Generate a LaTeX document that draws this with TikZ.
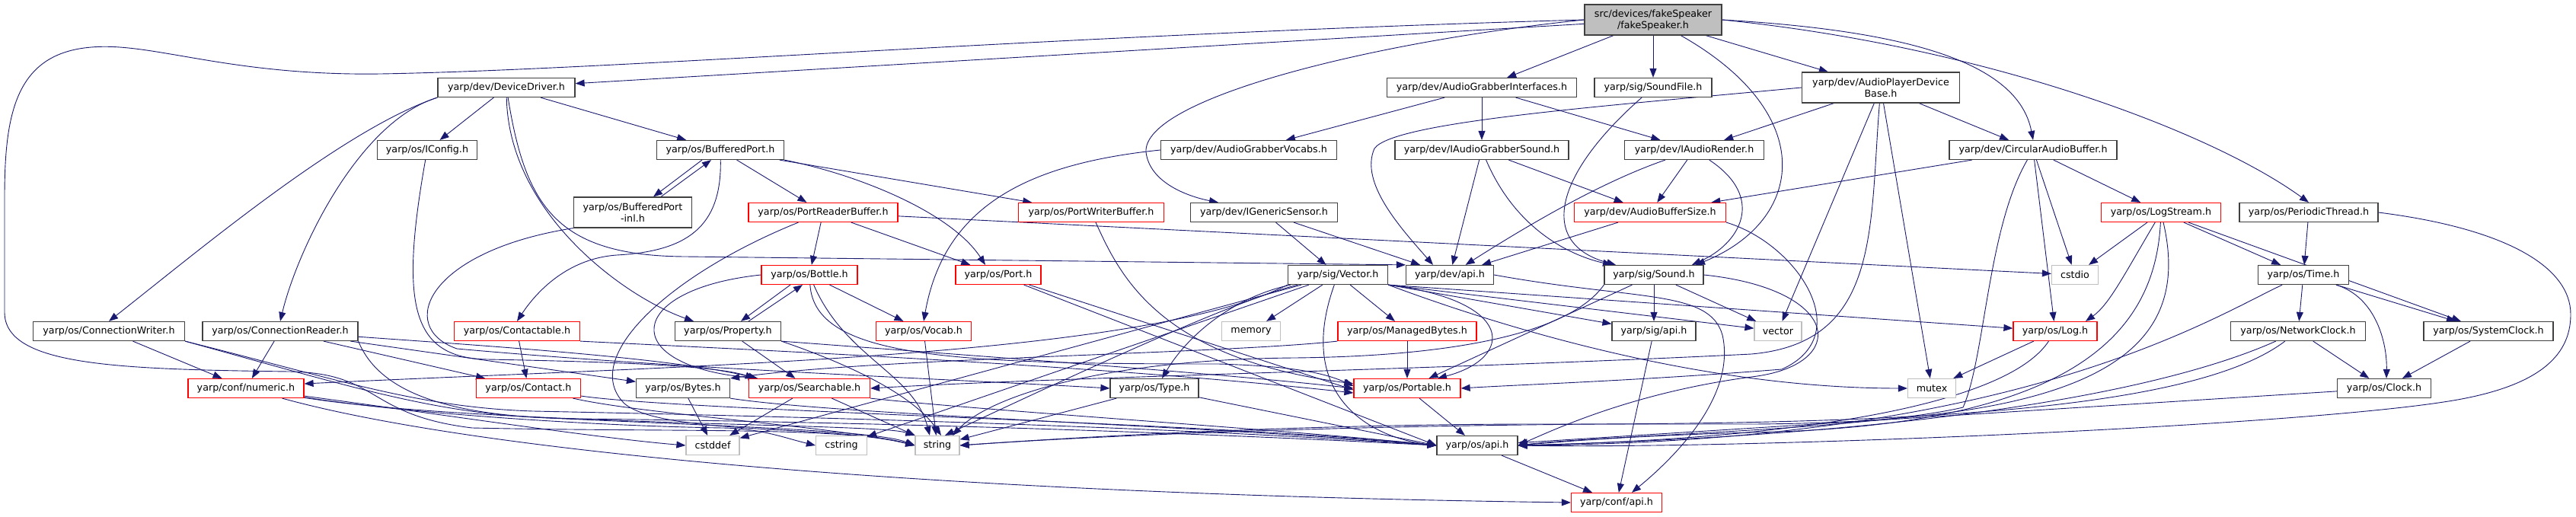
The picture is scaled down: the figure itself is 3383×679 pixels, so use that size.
\documentclass[tikz,border=0pt]{standalone}
\usepackage{fontspec}
\setmainfont{DejaVu Sans}
\usetikzlibrary{arrows.meta,backgrounds}
\definecolor{edgeblue}{HTML}{191970}
\definecolor{boxgray}{HTML}{404040}
\definecolor{sysgray}{HTML}{BFBFBF}
\definecolor{hdrred}{HTML}{FF0000}

\begin{document}
\begin{tikzpicture}[
  x=1pt, y=-1pt,
  font=\fontsize{12.7}{15}\selectfont,
  hdr/.style={draw=boxgray, fill=white, line width=1.2pt, inner xsep=0pt, inner ysep=0pt, minimum height=25pt, align=center},
  redhdr/.style={hdr, draw=hdrred},
  syshdr/.style={hdr, draw=sysgray},
  tall/.style={minimum height=40pt},
  inc/.style={-{Triangle[length=12pt,width=9pt]}, draw=edgeblue, line width=0.9pt}
]
\useasboundingbox (0,0) rectangle (3383,679);

\node[hdr, tall, fill=sysgray, minimum width=180pt] (root) at (2171,26) {src/devices/fakeSpeaker\\/fakeSpeaker.h};

\node[hdr, minimum width=180pt] (drv) at (665,115) {yarp/dev/DeviceDriver.h};
\node[hdr, minimum width=249pt] (agi) at (1946,115) {yarp/dev/AudioGrabberInterfaces.h};
\node[hdr, minimum width=154pt] (sfile) at (2171,115) {yarp/sig/SoundFile.h};
\node[hdr, tall, minimum width=207pt] (apdb) at (2470,115) {yarp/dev/AudioPlayerDevice\\Base.h};

\node[hdr, minimum width=131pt] (icfg) at (561,197) {yarp/os/IConfig.h};
\node[hdr, minimum width=167pt] (bport) at (946,197) {yarp/os/BufferedPort.h};
\node[hdr, minimum width=231pt] (agv) at (1640,197) {yarp/dev/AudioGrabberVocabs.h};
\node[hdr, minimum width=228pt] (iags) at (1946,197) {yarp/dev/IAudioGrabberSound.h};
\node[hdr, minimum width=183pt] (iar) at (2225,197) {yarp/dev/IAudioRender.h};
\node[hdr, minimum width=220pt] (cab) at (2670,197) {yarp/dev/CircularAudioBuffer.h};

\node[hdr, tall, minimum width=155pt] (bpinl) at (831,279) {yarp/os/BufferedPort\\-inl.h};
\node[redhdr, minimum width=196pt] (prbuf) at (1081,279) {yarp/os/PortReaderBuffer.h};
\node[redhdr, minimum width=191pt] (pwbuf) at (1433,279) {yarp/os/PortWriterBuffer.h};
\node[hdr, minimum width=193pt] (igs) at (1660,279) {yarp/dev/IGenericSensor.h};
\node[redhdr, minimum width=199pt] (abs) at (2167,279) {yarp/dev/AudioBufferSize.h};
\node[redhdr, minimum width=157pt] (lstream) at (2838,279) {yarp/os/LogStream.h};
\node[hdr, minimum width=182pt] (pthread) at (3032,279) {yarp/os/PeriodicThread.h};

\node[redhdr, minimum width=126pt] (bottle) at (1063,361) {yarp/os/Bottle.h};
\node[redhdr, minimum width=112pt] (port) at (1311,361) {yarp/os/Port.h};
\node[hdr, minimum width=131pt] (vec) at (1757,361) {yarp/sig/Vector.h};
\node[hdr, minimum width=115pt] (devapi) at (1904,361) {yarp/dev/api.h};
\node[hdr, minimum width=130pt] (sound) at (2172,361) {yarp/sig/Sound.h};
\node[syshdr, minimum width=61pt] (cstdio) at (2725,361) {cstdio};
\node[hdr, minimum width=119pt] (time) at (3025,361) {yarp/os/Time.h};

\node[hdr, minimum width=199pt] (cwriter) at (143,435) {yarp/os/ConnectionWriter.h};
\node[hdr, minimum width=204pt] (creader) at (368,435) {yarp/os/ConnectionReader.h};
\node[redhdr, minimum width=165pt] (ctable) at (679,435) {yarp/os/Contactable.h};
\node[hdr, minimum width=139pt] (prop) at (956,435) {yarp/os/Property.h};
\node[redhdr, minimum width=125pt] (vocab) at (1213,435) {yarp/os/Vocab.h};
\node[syshdr, minimum width=77pt] (memory) at (1643,435) {memory};
\node[redhdr, minimum width=182pt] (mbytes) at (1848,435) {yarp/os/ManagedBytes.h};
\node[hdr, minimum width=110pt] (sigapi) at (2172,435) {yarp/sig/api.h};
\node[syshdr, minimum width=62pt] (stdvector) at (2335,435) {vector};
\node[redhdr, minimum width=110pt] (log) at (2699,435) {yarp/os/Log.h};
\node[hdr, minimum width=177pt] (nclock) at (3018,435) {yarp/os/NetworkClock.h};
\node[hdr, minimum width=170pt] (sclock) at (3268,435) {yarp/os/SystemClock.h};

\node[redhdr, minimum width=152pt] (numeric) at (323,510) {yarp/conf/numeric.h};
\node[redhdr, minimum width=137pt] (contact) at (694,510) {yarp/os/Contact.h};
\node[hdr, minimum width=123pt] (bytes) at (897,510) {yarp/os/Bytes.h};
\node[redhdr, minimum width=159pt] (search) at (1063,510) {yarp/os/Searchable.h};
\node[hdr, minimum width=116pt] (type) at (1516,510) {yarp/os/Type.h};
\node[redhdr, minimum width=140pt] (portable) at (1848,510) {yarp/os/Portable.h};
\node[syshdr, minimum width=63pt] (mutex) at (2537,510) {mutex};
\node[hdr, minimum width=123pt] (clock) at (3131,510) {yarp/os/Clock.h};

\node[syshdr, minimum width=70pt] (cstddef) at (936,585) {cstddef};
\node[syshdr, minimum width=67pt] (cstring) at (1105,585) {cstring};
\node[syshdr, minimum width=58pt] (string) at (1231,585) {string};
\node[hdr, minimum width=106pt] (osapi) at (1940,585) {yarp/os/api.h};

\node[redhdr, minimum width=119pt] (confapi) at (2123,660) {yarp/conf/api.h};

\begin{scope}[on background layer]
% fakeSpeaker.h
\draw[inc] (root) -- (drv);
\draw[inc] (root.west) .. controls (1400,45) and (800,92) .. (500,97) .. controls (300,100) and (200,55) .. (120,62) .. controls (20,70) and (6,150) .. (6,260) -- (6,410) .. controls (6,480) and (150,485) .. (380,488) .. controls (500,490) and (480,545) .. (620,562) .. controls (900,568) and (1100,560) .. (string.west);
\draw[inc] (root.west) .. controls (1800,55) and (1500,130) .. (1505,200) .. controls (1510,240) and (1560,258) .. ([xshift=-60pt]igs.north);
\draw[inc] (root) -- (agi);
\draw[inc] (root) -- (sfile);
\draw[inc] (root) .. controls (2390,150) and (2370,290) .. ([xshift=55pt]sound.north);
\draw[inc] (root) -- (apdb);
\draw[inc] (root.east) .. controls (2500,40) and (2650,80) .. (cab.north);
\draw[inc] (root.east) .. controls (2600,60) and (2900,170) .. (pthread.north);
% DeviceDriver.h
\draw[inc] (drv.south west) .. controls (450,170) and (260,330) .. (cwriter.north);
\draw[inc] (drv.south west) .. controls (470,160) and (390,330) .. (creader.north);
\draw[inc] (drv) -- (icfg);
\draw[inc] (drv) .. controls (668,280) and (820,390) .. ([xshift=-45pt]prop.north);
\draw[inc] (drv) .. controls (690,270) and (730,336) .. (900,337) -- (devapi.north west);
\draw[inc] (drv) -- (bport);
\draw[inc] (icfg) .. controls (525,400) and (540,470) .. (640,472) .. controls (800,475) and (940,480) .. ([xshift=8pt]search.north west);
% BufferedPort.h
\draw[inc] ([xshift=-24pt]bport.south) -- ([xshift=27pt]bpinl.north);
\draw[inc] ([xshift=37pt]bpinl.north) -- ([xshift=-12pt]bport.south);
\draw[inc] (bport) -- (prbuf);
\draw[inc] (bport) -- (pwbuf);
\draw[inc] (bport.south east) .. controls (1130,230) and (1250,280) .. ([xshift=-17pt]port.north);
\draw[inc] (bport) .. controls (948,300) and (900,330) .. (810,335) .. controls (740,340) and (700,390) .. (ctable.north);
\draw[inc] (bpinl.south west) .. controls (560,330) and (520,430) .. (600,458) .. controls (900,485) and (1250,498) .. (type.west);
% PortReaderBuffer.h, PortWriterBuffer.h
\draw[inc] (prbuf) -- (bottle);
\draw[inc] (prbuf) -- (port);
\draw[inc] (prbuf) -- (cstdio);
\draw[inc] (prbuf) .. controls (880,360) and (760,470) .. (820,530) .. controls (870,572) and (1100,558) .. (string.west);
\draw[inc] (pwbuf) .. controls (1470,360) and (1520,470) .. ([yshift=6pt]portable.west);
% device interfaces
\draw[inc] (igs) -- (vec);
\draw[inc] (igs) -- (devapi);
\draw[inc] (agv.west) .. controls (1350,215) and (1240,270) .. (vocab.north);
\draw[inc] (agi) -- (agv);
\draw[inc] (agi) -- (iags);
\draw[inc] (agi) -- (iar);
\draw[inc] (iags) -- (devapi);
\draw[inc] (iags) .. controls (1990,300) and (2060,335) .. ([xshift=-55pt]sound.north);
\draw[inc] (iags) -- (abs);
\draw[inc] (iar) -- (abs);
\draw[inc] (iar) .. controls (2100,240) and (2000,300) .. (devapi);
\draw[inc] (iar) .. controls (2320,260) and (2285,320) .. ([xshift=50pt]sound.north);
\draw[inc] (sfile) .. controls (2040,230) and (2020,320) .. ([xshift=-50pt]sound.north);
\draw[inc] (apdb) -- (iar);
\draw[inc] (apdb) -- (cab);
\draw[inc] (apdb.west) .. controls (2100,140) and (1830,160) .. (1805,195) .. controls (1785,240) and (1840,300) .. ([xshift=-22pt]devapi.north);
\draw[inc] (apdb) -- (stdvector);
\draw[inc] (apdb) -- (mutex);
\draw[inc] (apdb) .. controls (2455,300) and (2470,450) .. (2300,465) .. controls (1900,485) and (1400,495) .. (search.east);
\draw[inc] (cab) -- (abs);
\draw[inc] (cab) -- (lstream);
\draw[inc] (cab) -- (cstdio);
\draw[inc] (cab) -- (log);
\draw[inc] (cab) .. controls (2610,300) and (2607,470) .. (2578,535) .. controls (2450,565) and (2100,572) .. (osapi.east);
\draw[inc] (abs) -- (devapi);
\draw[inc] (abs.south east) .. controls (2360,320) and (2440,440) .. (2340,485) .. controls (2150,500) and (2000,505) .. (portable.east);
% LogStream.h, PeriodicThread.h, clocks
\draw[inc] (lstream) -- (cstdio);
\draw[inc] (lstream) .. controls (2790,360) and (2770,400) .. ([xshift=40pt]log.north);
\draw[inc] (lstream) -- (time);
\draw[inc] (lstream) -- (sclock);
\draw[inc] (lstream) .. controls (2830,440) and (2720,560) .. (2300,568) .. controls (2150,572) and (2050,580) .. (osapi.east);
\draw[inc] (lstream) .. controls (2880,460) and (2760,555) .. (2300,557) -- (2020,557) .. controls (1700,557) and (1400,575) .. (string.east);
\draw[inc] (pthread) -- (time);
\draw[inc] (pthread.east) .. controls (3290,300) and (3376,350) .. (3376,413) .. controls (3376,470) and (3330,510) .. (3209,528) .. controls (3000,560) and (2300,590) .. (osapi.east);
\draw[inc] (time) -- (nclock);
\draw[inc] (time) -- (sclock);
\draw[inc] (time) .. controls (3120,390) and (3135,450) .. ([xshift=3pt]clock.north);
\draw[inc] (time) .. controls (2900,420) and (2650,580) .. (osapi.east);
\draw[inc] (nclock) -- (clock);
\draw[inc] (nclock) .. controls (2850,510) and (2550,570) .. (osapi.east);
\draw[inc] (nclock) .. controls (2880,540) and (2500,555) .. (2100,557) .. controls (1700,560) and (1400,575) .. (string.east);
\draw[inc] (sclock) -- (clock);
\draw[inc] (clock) -- (osapi);
\draw[inc] (log) -- (mutex);
\draw[inc] (log) .. controls (2640,525) and (2400,575) .. (osapi.east);
% Vector.h, Sound.h
\draw[inc] (vec) -- (mbytes);
\draw[inc] (vec) -- (memory);
\draw[inc] (vec) .. controls (1620,390) and (1560,440) .. ([xshift=10pt]type.north);
\draw[inc] (vec.south east) .. controls (1990,395) and (1990,470) .. ([xshift=40pt]portable.north);
\draw[inc] (vec.south east) -- (sigapi);
\draw[inc] (vec.south east) -- (stdvector);
\draw[inc] (vec.south east) -- (log);
\draw[inc] (vec.south east) .. controls (2000,440) and (2250,510) .. (mutex.west);
\draw[inc] (vec.south west) .. controls (1500,470) and (900,480) .. ([yshift=6pt]numeric.east);
\draw[inc] (vec) .. controls (1640,390) and (1500,450) .. ([xshift=10pt]string.north);
\draw[inc] (vec) -- (cstddef);
\draw[inc] (vec) -- (cstring);
\draw[inc] (vec) .. controls (1700,520) and (1800,575) .. (osapi.west);
\draw[inc] (sound) -- (sigapi);
\draw[inc] (sound) -- (portable);
\draw[inc] (sound) -- (stdvector);
\draw[inc] (sound.east) .. controls (2420,380) and (2430,480) .. (2300,495) .. controls (2150,515) and (2050,560) .. (osapi.east);
\draw[inc] (sound.south west) .. controls (2060,440) and (1900,468) .. (1700,470) .. controls (1450,472) and (1300,520) .. ([xshift=20pt]string.north);
\draw[inc] (devapi.east) .. controls (2150,395) and (2245,380) .. (2262,440) .. controls (2280,520) and (2200,600) .. ([xshift=20pt]confapi.north);
\draw[inc] (sigapi) -- (confapi);
\draw[inc] (mbytes) -- (portable);
\draw[inc] (mbytes.south west) .. controls (1600,465) and (1150,470) .. (bytes.north east);
\draw[inc] (portable) -- (osapi);
\draw[inc] (osapi) -- (confapi);
% conf/numeric.h, connections
\draw[inc] (numeric) .. controls (550,540) and (780,575) .. (cstddef.west);
\draw[inc] (numeric) .. controls (550,545) and (800,560) .. (950,562) .. controls (1000,563) and (1030,575) .. (cstring.west);
\draw[inc] (numeric) .. controls (560,548) and (900,555) .. (1060,560) .. controls (1150,563) and (1180,565) .. (string.north west);
\draw[inc] (numeric) .. controls (650,600) and (1300,650) .. (confapi.west);
\draw[inc] (cwriter) -- (numeric);
\draw[inc] (cwriter.south east) .. controls (450,500) and (550,535) .. (700,540) .. controls (1200,550) and (1600,565) .. (osapi.west);
\draw[inc] (cwriter.south east) .. controls (450,505) and (560,540) .. (700,548) .. controls (950,560) and (1150,565) .. (string.west);
\draw[inc] (creader) -- (numeric);
\draw[inc] (creader) -- (contact);
\draw[inc] (creader) -- (bytes);
\draw[inc] (creader) .. controls (650,455) and (880,470) .. ([xshift=12pt]search.north west);
\draw[inc] (creader.south east) .. controls (500,520) and (600,548) .. (760,550) .. controls (1200,555) and (1600,570) .. (osapi.west);
\draw[inc] (ctable) -- (contact);
\draw[inc] (ctable.south east) .. controls (1000,460) and (1450,480) .. ([yshift=-6pt]portable.west);
\draw[inc] (contact) .. controls (900,540) and (1600,555) .. (osapi.west);
\draw[inc] (contact) .. controls (850,545) and (1100,560) .. (string.west);
\draw[inc] (bytes) -- (cstddef);
\draw[inc] (bytes.south east) .. controls (1100,545) and (1600,560) .. (osapi.west);
\draw[inc] (search) -- (cstddef);
\draw[inc] (search) -- (string);
\draw[inc] (search.south east) .. controls (1300,540) and (1700,565) .. (osapi.west);
% Bottle.h, Property.h, Port.h
\draw[inc] ([xshift=-25pt]bottle.south) -- ([xshift=17pt]prop.north);
\draw[inc] ([xshift=27pt]prop.north) -- ([xshift=-9pt]bottle.south);
\draw[inc] (bottle.west) .. controls (820,380) and (810,480) .. ([xshift=12pt]search.north west);
\draw[inc] (bottle) -- (vocab);
\draw[inc] (bottle) .. controls (1070,470) and (1250,478) .. (1600,478) .. controls (1700,481) and (1740,490) .. ([yshift=3pt]portable.west);
\draw[inc] (bottle) .. controls (1110,470) and (1200,490) .. ([xshift=-10pt]string.north);
\draw[inc] (prop) -- (search);
\draw[inc] (prop.south east) .. controls (1250,465) and (1600,490) .. (portable.west);
\draw[inc] (prop.south east) .. controls (1120,480) and (1200,520) .. ([xshift=5pt]string.north);
\draw[inc] (port) -- ([yshift=-2pt]portable.west);
\draw[inc] (port) -- (osapi.west);
\draw[inc] (vocab) -- (string);
\draw[inc] (type) -- (string);
\draw[inc] (type) -- (osapi.west);
\end{scope}
\end{tikzpicture}
\end{document}
